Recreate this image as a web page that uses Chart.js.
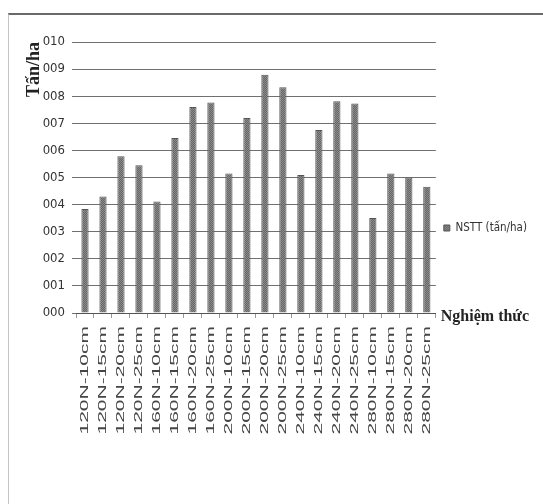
<!DOCTYPE html>
<html>
<head>
<meta charset="utf-8">
<script src="https://cdn.jsdelivr.net/npm/chart.js@4"></script>
<style>
  html, body { margin: 0; padding: 0; background: #ffffff; }
  #wrap { position: relative; width: 543px; height: 504px; }
  #frame { position: absolute; left: 8px; top: 13px; width: 535px; height: 491px;
           border-top: 2px solid #6a6a6a; border-left: 1px solid #c4c4c4; box-sizing: border-box;
           pointer-events: none; }
</style>
</head>
<body>
<div id="wrap">
  <canvas id="c" width="543" height="504"></canvas>
  <div id="frame"></div>
</div>
<script>
// Treatments (N rate - plant spacing)
const treatments = [
  '120N-10cm', '120N-15cm', '120N-20cm', '120N-25cm',
  '160N-10cm', '160N-15cm', '160N-20cm', '160N-25cm',
  '200N-10cm', '200N-15cm', '200N-20cm', '200N-25cm',
  '240N-10cm', '240N-15cm', '240N-20cm', '240N-25cm',
  '280N-10cm', '280N-15cm', '280N-20cm', '280N-25cm'
];
// Actual yield (tấn/ha)
const yieldValues = [
  3.84, 4.30, 5.78, 5.45,
  4.11, 6.46, 7.60, 7.77,
  5.15, 7.20, 8.79, 8.33,
  5.09, 6.75, 7.81, 7.73,
  3.51, 5.15, 5.00, 4.66
];
const yTicks = [0, 1, 2, 3, 4, 5, 6, 7, 8, 9, 10];
const seriesName = 'NSTT (tấn/ha)';
const yTitle = 'Tấn/ha';
const xTitle = 'Nghiệm thức';

// Stippled grey fill for the bars
function makePattern() {
  const p = document.createElement('canvas');
  p.width = 2; p.height = 2;
  const g = p.getContext('2d');
  g.fillStyle = '#666666'; g.fillRect(0, 0, 2, 2);
  g.fillStyle = '#8a8a8a'; g.fillRect(0, 0, 1, 1); g.fillRect(1, 1, 1, 1);
  return g.createPattern(p, 'repeat');
}
const barFill = makePattern();

// Category labels, stretched along their length and read bottom-to-top,
// plus the x-axis caption at the right end of the axis
const axisText = {
  id: 'axisText',
  afterDraw(chart) {
    const ctx = chart.ctx;
    const xs = chart.scales.x;
    const y0 = chart.scales.y.getPixelForValue(0);
    ctx.save();
    ctx.fillStyle = '#454545';
    ctx.font = '10px "Liberation Sans", Arial, sans-serif';
    ctx.textAlign = 'right';
    ctx.textBaseline = 'middle';
    chart.data.labels.forEach((lab, i) => {
      ctx.save();
      ctx.translate(xs.getPixelForTick(i), y0 + 13);
      ctx.rotate(-Math.PI / 2);
      ctx.scale(2.1, 1);
      ctx.fillText(lab, 0, 0);
      ctx.restore();
    });
    ctx.font = 'bold 16px "Liberation Serif", "Times New Roman", serif';
    ctx.fillStyle = '#222';
    ctx.textAlign = 'left';
    ctx.textBaseline = 'alphabetic';
    ctx.fillText(xTitle, chart.chartArea.right + 5, y0 + 8);
    ctx.restore();
  }
};

new Chart(document.getElementById('c'), {
  type: 'bar',
  data: {
    labels: treatments,
    datasets: [{
      label: seriesName,
      data: yieldValues,
      backgroundColor: barFill,
      borderColor: '#555555',
      borderWidth: 1,
      categoryPercentage: 1.0,
      barPercentage: 0.4
    }]
  },
  options: {
    responsive: false,
    animation: false,
    layout: { padding: { top: 42, bottom: 90, left: 8, right: 6 } },
    plugins: {
      legend: {
        position: 'right',
        align: 'center',
        labels: {
          boxWidth: 6, boxHeight: 6, padding: 8,
          color: '#333',
          font: { family: '"DejaVu Sans Condensed", "Liberation Sans Narrow", sans-serif', size: 11.5 }
        }
      },
      tooltip: { enabled: false }
    },
    scales: {
      x: {
        grid: { offset: true, drawOnChartArea: false, tickLength: 5, color: '#9a9a9a' },
        border: { color: '#555', width: 1 },
        ticks: { display: false },
        afterFit(scale) { scale.height = 101; }
      },
      y: {
        min: 0, max: 10,
        afterBuildTicks(scale) { scale.ticks = yTicks.map(v => ({ value: v })); },
        grid: { color: '#707070', tickLength: 4, lineWidth: 1 },
        border: { display: false },
        ticks: {
          padding: 7,
          color: '#333',
          font: { family: '"DejaVu Sans Condensed", "Liberation Sans Narrow", sans-serif', size: 13 },
          callback: v => String(v).padStart(3, '0')
        },
        title: {
          display: true,
          text: yTitle,
          align: 'end',
          color: '#222',
          padding: { top: 16, bottom: 0 },
          font: { family: '"Liberation Serif", "Times New Roman", serif', size: 18, weight: 'bold' }
        },
        afterFit(scale) { scale.width = 68; }
      }
    }
  },
  plugins: [axisText]
});
</script>
</body>
</html>
